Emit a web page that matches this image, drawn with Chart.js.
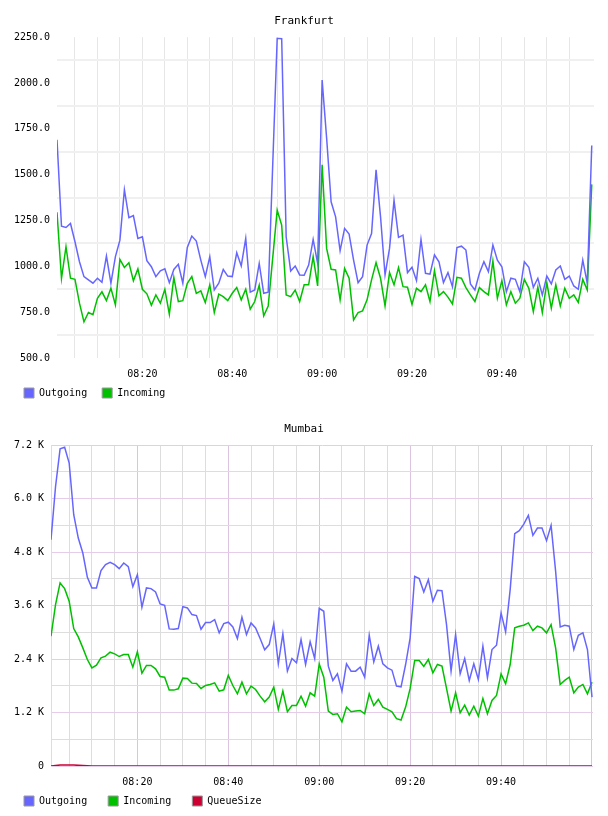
<!DOCTYPE html>
<html>
<head>
<meta charset="utf-8">
<title>Frankfurt / Mumbai</title>
<script src="https://cdn.jsdelivr.net/npm/chart.js@4.4.0/dist/chart.umd.min.js"></script>
<style>
  html, body { margin: 0; padding: 0; background: #fff; }
  .box { width: 608px; height: 408px; }
  canvas { display: block; }
</style>
</head>
<body>
<div class="box"><canvas id="frankfurt" width="608" height="408"></canvas></div>
<div class="box"><canvas id="mumbai" width="608" height="408"></canvas></div>
<script>
// one sample per minute, 08:01 .. 10:00
const firstSample = '08:01';

// vertical grid every 5 minutes, labels every 20
const gridMinutes = [485, 490, 495, 500, 505, 510, 515, 520, 525, 530, 535, 540,
                     545, 550, 555, 560, 565, 570, 575, 580, 585, 590, 595];
const timeLabels = ['08:20', '08:40', '09:00', '09:20', '09:40'];

const frankfurtOutgoing = [
  1690, 1219, 1212, 1234, 1134, 1025, 944, 926, 908, 935,
  913, 1056, 908, 1053, 1143, 1418, 1266, 1277, 1152, 1161,
  1031, 998, 944, 976, 987, 911, 983, 1011, 908, 1103,
  1165, 1138, 1034, 944, 1053, 871, 908, 983, 947, 944,
  1074, 1002, 1152, 859, 871, 1016, 853, 859, null, 2244,
  2242, 1160, 975, 1002, 953, 951, 1007, 1147, 1016, 2016,
  1700, 1352, 1270, 1085, 1207, 1176, 1034, 911, 944, 1116,
  1179, 1527, 1270, 953, 1098, 1360, 1158, 1170, 966, 995,
  922, 1147, 962, 957, 1062, 1025, 911, 966, 889, 1103,
  1110, 1089, 904, 871, 962, 1025, 971, 1116, 1034, 998,
  862, 935, 929, 862, 1025, 995, 886, 935, 844, 947,
  904, 980, 1002, 929, 947, 893, 875, 1034, 908, 1659
];
const frankfurtIncoming = [
  1295, 935, 1107, 935, 929, 799, 697, 748, 736, 826,
  861, 813, 880, 790, 1038, 994, 1020, 922, 986, 875,
  850, 788, 844, 799, 875, 739, 940, 808, 813, 908,
  944, 853, 866, 803, 899, 748, 848, 835, 813, 853,
  884, 817, 875, 766, 808, 897, 730, 784, null, 1306,
  1225, 844, 835, 871, 808, 899, 899, 1053, 893, 1554,
  1098, 984, 980, 817, 989, 935, 708, 748, 757, 817,
  926, 1020, 935, 784, 966, 899, 993, 889, 886, 793,
  880, 862, 899, 808, 976, 839, 862, 832, 795, 940,
  935, 884, 844, 808, 884, 862, 844, 1029, 826, 922,
  790, 862, 799, 826, 929, 880, 753, 886, 748, 911,
  772, 899, 784, 880, 826, 844, 803, 929, 871, 1447
];

const mumbaiOutgoing = [
  5079, 6274, 7118, 7155, 6797, 5639, 5116, 4780, 4235, 3996,
  3996, 4384, 4519, 4571, 4519, 4429, 4556, 4474, 4026, 4295,
  3563, 3996, 3981, 3906, 3637, 3608, 3077, 3070, 3085, 3578,
  3548, 3398, 3376, 3070, 3219, 3219, 3286, 2988, 3197, 3227,
  3122, 2861, 3339, 2950, 3212, 3100, 2861, 2607, 2726, 3189,
  2293, 2965, 2129, 2413, 2315, 2838, 2278, 2786, 2413, 3540,
  3473, 2241, 1920, 2069, 1681, 2293, 2129, 2129, 2218, 1994,
  2935, 2338, 2689, 2293, 2203, 2151, 1793, 1778, 2278, 2876,
  4257, 4205, 3906, 4183, 3697, 3944, 3936, 3174, 2129, 2950,
  2069, 2413, 1920, 2293, 1942, 2689, 1979, 2614, 2711, 3436,
  3010, 3959, 5213, 5281, 5430, 5624, 5176, 5340, 5340, 5057,
  5400, 4369, 3122, 3159, 3137, 2614, 2935, 2988, 2614, 1546
];
const mumbaiIncoming = [
  2913, 3622, 4108, 3981, 3697, 3085, 2898, 2652, 2390, 2203,
  2263, 2427, 2465, 2554, 2517, 2457, 2502, 2502, 2218, 2562,
  2084, 2256, 2256, 2181, 2009, 1994, 1703, 1703, 1733, 1972,
  1964, 1860, 1852, 1740, 1807, 1830, 1867, 1681, 1710, 2032,
  1807, 1621, 1882, 1621, 1793, 1718, 1568, 1442, 1546, 1770,
  1270, 1681, 1217, 1359, 1359, 1568, 1344, 1643, 1568, 2290,
  1994, 1232, 1158, 1173, 993, 1322, 1217, 1232, 1247, 1173,
  1621, 1359, 1494, 1322, 1270, 1217, 1061, 1031, 1322, 1740,
  2368, 2368, 2233, 2390, 2091, 2278, 2241, 1740, 1232, 1643,
  1195, 1367, 1143, 1344, 1120, 1516, 1173, 1471, 1583, 2069,
  1845, 2278, 3100, 3137, 3159, 3212, 3040, 3137, 3100, 2988,
  3174, 2652, 1830, 1920, 1994, 1643, 1770, 1830, 1621, 1882
];
const mumbaiQueueSize = [
  0, 10, 20, 25, 25, 20, 15, 10, 5, 0,
  0, 0, 0, 0, 0, 0, 0, 0, 0, 0,
  0, 0, 0, 0, 0, 0, 0, 0, 0, 0,
  0, 0, 0, 0, 0, 0, 0, 0, 0, 0,
  0, 0, 0, 0, 0, 0, 0, 0, 0, 0,
  0, 0, 0, 0, 0, 0, 0, 0, 0, 0,
  0, 0, 0, 0, 0, 0, 0, 0, 0, 0,
  0, 0, 0, 0, 0, 0, 0, 0, 0, 0,
  0, 0, 0, 0, 0, 0, 0, 0, 0, 0,
  0, 0, 0, 0, 0, 0, 0, 0, 0, 0,
  0, 0, 0, 0, 0, 0, 0, 0, 0, 0,
  0, 0, 0, 0, 0, 0, 0, 0, 0, 0
];

const colOut = '#6666ff';
const colIn = '#00c000';
const colQueue = '#cc0033';
const FONT = 'DejaVu Sans Mono';

function toMinutes(hhmm) {
  const p = hhmm.split(':');
  return parseInt(p[0], 10) * 60 + parseInt(p[1], 10);
}
function clock(m) {
  const h = Math.floor(m / 60), mm = Math.round(m % 60);
  return String(h).padStart(2, '0') + ':' + String(mm).padStart(2, '0');
}
const start = toMinutes(firstSample);
function points(values) {
  return values.map((v, i) => ({ x: start + i, y: v }));
}

// the x axis box is short (legend sits close under it), so let its labels
// spill below the box instead of being clipped
const labelRoom = {
  id: 'labelRoom',
  afterLayout(chart) {
    chart.scales.x.bottom = chart.height;
  }
};

function makeChart(id, opt) {
  const legendLabels = (chart) =>
    Chart.defaults.plugins.legend.labels.generateLabels(chart).map(l => Object.assign(l, {
      fillStyle: opt.series[l.datasetIndex].color,
      strokeStyle: '#999999',
      lineWidth: 1
    }));

  return new Chart(document.getElementById(id), {
    type: 'line',
    plugins: [labelRoom],
    data: {
      datasets: opt.series.map(s => ({
        label: s.label,
        data: points(s.values),
        borderColor: s.color,
        backgroundColor: s.color,
        borderWidth: 1.5,
        pointRadius: 0,
        tension: 0,
        fill: false,
        spanGaps: true
      }))
    },
    options: {
      responsive: false,
      animation: false,
      devicePixelRatio: 1,
      layout: { padding: { left: opt.padLeft, right: opt.padLeft, top: 0, bottom: 0 } },
      plugins: {
        tooltip: { enabled: false },
        title: {
          display: true,
          text: opt.title,
          color: '#000',
          font: { family: FONT, size: 11, weight: 'normal', lineHeight: 1.2 },
          padding: { top: 15, bottom: 9 }
        },
        legend: {
          position: 'bottom',
          align: 'start',
          labels: {
            boxWidth: 10,
            boxHeight: 10,
            padding: opt.legendGap,
            color: '#000',
            font: { family: FONT, size: 10 },
            generateLabels: legendLabels
          }
        }
      },
      scales: {
        x: {
          type: 'linear',
          min: start,
          max: opt.xMax,
          afterBuildTicks: axis => { axis.ticks = opt.xGrid.map(v => ({ value: v })); },
          afterFit: axis => { axis.height = opt.xAxisHeight; },
          border: { display: false },
          grid: { drawTicks: false, color: opt.xGridColor, lineWidth: 1 },
          ticks: {
            autoSkip: false,
            maxRotation: 0,
            padding: 10,
            color: '#000',
            font: { family: FONT, size: 10 },
            callback: v => timeLabels.includes(clock(v)) ? clock(v) : ''
          }
        },
        y: {
          min: opt.yMin,
          max: opt.yMax,
          afterBuildTicks: axis => {
            const t = [];
            for (let v = opt.yMin; v <= opt.yMax + 0.001; v += opt.yStep) t.push({ value: v });
            axis.ticks = t;
          },
          afterFit: axis => { axis.width = 48; },
          border: opt.yBorder,
          grid: { drawTicks: false, color: opt.yGridColor, lineWidth: opt.yGridWidth },
          ticks: {
            padding: 7,
            color: '#000',
            font: { family: FONT, size: 10 },
            callback: opt.yLabel
          }
        },
        pad: {
          type: 'linear',
          position: 'right',
          grid: { display: false },
          border: { display: false },
          ticks: { display: false },
          afterFit: axis => { axis.width = opt.rightGap; }
        }
      }
    }
  });
}

makeChart('frankfurt', {
  title: 'Frankfurt',
  padLeft: 9,
  rightGap: 5,
  legendGap: 15,
  xAxisHeight: 15,
  xMax: 600.5,
  xGrid: gridMinutes,
  xGridColor: '#e6e6e6',
  yMin: 500, yMax: 2250, yStep: 125,
  yBorder: { display: false },
  yGridColor: ctx => ((ctx.tick.value - 500) % 250 === 0) ? 'rgba(0,0,0,0)' : '#f0f0f0',
  yGridWidth: 2,
  yLabel: v => ((v - 500) % 250 === 0) ? v.toFixed(1) : '',
  series: [
    { label: 'Outgoing', values: frankfurtOutgoing, color: colOut },
    { label: 'Incoming', values: frankfurtIncoming, color: colIn }
  ]
});

makeChart('mumbai', {
  title: 'Mumbai',
  padLeft: 3,
  rightGap: 12,
  legendGap: 21,
  xAxisHeight: 9,
  xMax: 600.22,
  xGrid: gridMinutes.concat([600]),
  xGridColor: ctx => (Math.round(ctx.tick.value) % 20 === 0) ? '#dcc4e0' : '#dddddd',
  yMin: 0, yMax: 7200, yStep: 600,
  yBorder: { display: true, color: '#e8d4ec', width: 1 },
  yGridColor: ctx => (ctx.tick.value % 1200 === 0) ? '#e6cce8' : '#dddddd',
  yGridWidth: 1,
  yLabel: v => (v % 1200 !== 0) ? '' : (v === 0 ? '0' : (v / 1000).toFixed(1) + ' K'),
  series: [
    { label: 'Outgoing', values: mumbaiOutgoing, color: colOut },
    { label: 'Incoming', values: mumbaiIncoming, color: colIn },
    { label: 'QueueSize', values: mumbaiQueueSize, color: colQueue }
  ]
});
</script>
</body>
</html>
